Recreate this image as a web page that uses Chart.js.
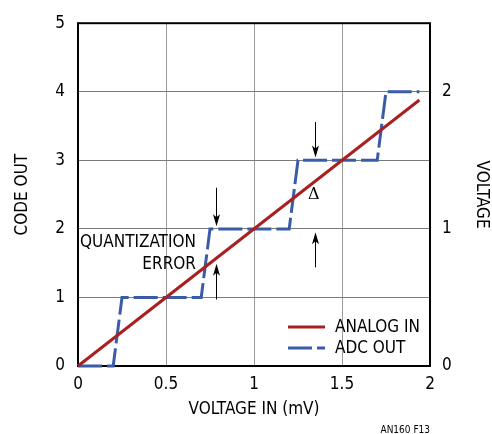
<!DOCTYPE html>
<html>
<head>
<meta charset="utf-8">
<script src="https://cdn.jsdelivr.net/npm/chart.js@4.4.1/dist/chart.umd.min.js"></script>
<style>
  html, body { margin: 0; padding: 0; background: #fff; }
  canvas { display: block; }
</style>
</head>
<body>
<canvas id="chart" width="492" height="434"></canvas>
<script>
// ---- data ----
const xTicks = [0, 0.5, 1, 1.5, 2];
const codeTicks = [0, 1, 2, 3, 4, 5];
const voltTicks = [0, 1, 2];

const analogX = [0, 1.94];
const analogY = [0, 3.88];

const adcX = [0, 0.2, 0.25, 0.7, 0.75, 1.2, 1.25, 1.7, 1.75, 1.94];
const adcY = [0, 0, 1, 1, 2, 2, 3, 3, 4, 4];

const seriesNames = ['ANALOG IN', 'ADC OUT'];
const noteLines = ['QUANTIZATION', 'ERROR'];
const deltaLabel = '\u0394';
const footNote = 'AN160 F13';

// quantization error markers (x, arrow tail -> arrow tip, in code units)
const arrowX = [0.784, 1.347];
const downFrom = [2.6, 3.56];
const downTo = [2.04, 3.04];
const upFrom = [0.97, 1.44];
const upTo = [1.49, 1.95];

const FONT = '"DejaVu Sans Condensed", "Liberation Sans Narrow", "Liberation Sans", sans-serif';
const RED = '#a8201f';
const BLUE = '#3a5ca8';

const pts = (xs, ys) => xs.map((x, i) => ({ x, y: ys[i] }));

function arrow(ctx, x, y0, y1) {
    const dir = y1 > y0 ? 1 : -1;
    ctx.beginPath();
    ctx.moveTo(x, y0);
    ctx.lineTo(x, y1 - dir * 8);
    ctx.stroke();
    ctx.beginPath();
    ctx.moveTo(x, y1);
    ctx.lineTo(x - 3.5, y1 - dir * 12);
    ctx.lineTo(x, y1 - dir * 9);
    ctx.lineTo(x + 3.5, y1 - dir * 12);
    ctx.closePath();
    ctx.fill();
}

const decorations = {
    id: 'decorations',
    beforeDatasetsDraw(chart) {
        const { ctx, chartArea: a } = chart;
        ctx.save();
        ctx.strokeStyle = '#000';
        ctx.lineWidth = 2;
        ctx.strokeRect(a.left, a.top, a.right - a.left, a.bottom - a.top);
        ctx.restore();
    },
    afterDatasetsDraw(chart) {
        const { ctx, scales: { x, y } } = chart;
        ctx.save();

        // quantization error arrows
        ctx.strokeStyle = '#000';
        ctx.fillStyle = '#000';
        ctx.lineWidth = 1;
        arrowX.forEach((v, i) => {
            const px = Math.round(x.getPixelForValue(v)) + 0.5;
            arrow(ctx, px, y.getPixelForValue(downFrom[i]), y.getPixelForValue(downTo[i]));
            arrow(ctx, px, y.getPixelForValue(upFrom[i]), y.getPixelForValue(upTo[i]));
        });

        // annotation text
        ctx.font = '17px ' + FONT;
        ctx.textAlign = 'right';
        ctx.textBaseline = 'alphabetic';
        ctx.fillText(noteLines[0], x.getPixelForValue(0.67), y.getPixelForValue(1.73));
        ctx.fillText(noteLines[1], x.getPixelForValue(0.67), y.getPixelForValue(1.42));

        ctx.font = '16px "DejaVu Serif", serif';
        ctx.textAlign = 'center';
        ctx.textBaseline = 'middle';
        ctx.fillText(deltaLabel, x.getPixelForValue(1.34), y.getPixelForValue(2.5));

        // legend
        const ds = chart.data.datasets;
        const lx = 288, ly = 327;
        ctx.font = '17px ' + FONT;
        ctx.textAlign = 'left';
        ds.forEach((d, i) => {
            const yy = ly + i * 21;
            ctx.strokeStyle = d.borderColor;
            ctx.lineWidth = 3;
            ctx.setLineDash(d.borderDash || []);
            ctx.beginPath();
            ctx.moveTo(lx, yy);
            ctx.lineTo(lx + 37, yy);
            ctx.stroke();
            ctx.setLineDash([]);
            ctx.fillStyle = '#000';
            ctx.fillText(d.label, lx + 47, yy + 1);
        });

        // figure tag
        ctx.font = '10px ' + FONT;
        ctx.textAlign = 'right';
        ctx.textBaseline = 'alphabetic';
        ctx.fillText(footNote, 430, 433);
        ctx.restore();
    }
};

const tickFont = { family: FONT, size: 17 };

new Chart(document.getElementById('chart'), {
    type: 'scatter',
    data: {
        datasets: [
            {
                label: seriesNames[0],
                data: pts(analogX, analogY),
                showLine: true,
                borderColor: RED,
                borderWidth: 3,
                pointRadius: 0,
                clip: 4,
                yAxisID: 'y'
            },
            {
                label: seriesNames[1],
                data: pts(adcX, adcY),
                showLine: true,
                borderColor: BLUE,
                borderWidth: 3,
                borderDash: [24, 5],
                pointRadius: 0,
                clip: 4,
                yAxisID: 'y'
            }
        ]
    },
    options: {
        responsive: false,
        animation: false,
        devicePixelRatio: 1,
        layout: { padding: { top: 15, left: 0, right: 0, bottom: 0 } },
        plugins: { legend: { display: false }, tooltip: { enabled: false } },
        scales: {
            x: {
                type: 'linear',
                min: 0, max: 2,
                afterBuildTicks: s => { s.ticks = xTicks.map(v => ({ value: v })); },
                afterFit: s => { s.height = 68; },
                ticks: { font: tickFont, color: '#000', padding: 8, maxRotation: 0, callback: v => String(v) },
                grid: {
                    drawTicks: false,
                    color: c => (c.tick && (c.tick.value === 0 || c.tick.value === 2)) ? 'rgba(0,0,0,0)' : '#9a9a9a'
                },
                border: { display: false },
                title: { display: true, text: 'VOLTAGE IN (mV)', font: tickFont, color: '#000', padding: { bottom: 14 } }
            },
            y: {
                position: 'left',
                min: 0, max: 5,
                afterBuildTicks: s => { s.ticks = codeTicks.map(v => ({ value: v })); },
                afterFit: s => { s.width = 78; },
                ticks: { font: tickFont, color: '#000', padding: 13 },
                grid: {
                    drawTicks: false,
                    color: c => (c.tick && (c.tick.value === 0 || c.tick.value === 5)) ? 'rgba(0,0,0,0)' : '#7a7a7a'
                },
                border: { display: false },
                title: { display: true, text: 'CODE OUT', font: tickFont, color: '#000', padding: { top: 12 } }
            },
            y2: {
                position: 'right',
                min: 0, max: 2.5,
                afterBuildTicks: s => { s.ticks = voltTicks.map(v => ({ value: v })); },
                afterFit: s => { s.width = 62; },
                ticks: { font: tickFont, color: '#000', padding: 12 },
                grid: { display: false, drawTicks: false },
                border: { display: false },
                title: { display: true, text: 'VOLTAGE', font: tickFont, color: '#000', padding: { top: 0 } }
            }
        }
    },
    plugins: [decorations]
});
</script>
</body>
</html>
